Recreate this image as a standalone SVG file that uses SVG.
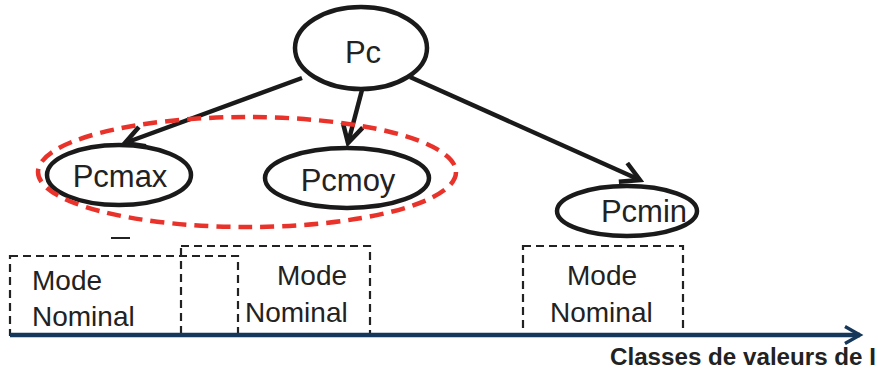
<svg xmlns="http://www.w3.org/2000/svg" width="878" height="369" viewBox="0 0 878 369">
<style>
.node{fill:#fff;stroke:#1a1a1a;stroke-width:4.5}
.lbl{font-family:"Liberation Sans",Arial,sans-serif;font-size:31px;fill:#222;text-anchor:middle}
.mode{font-family:"Liberation Sans",Arial,sans-serif;font-size:28px;fill:#222}
.box{fill:none;stroke:#222;stroke-width:2.2;stroke-dasharray:8,5}
.edge{fill:none;stroke:#1a1a1a;stroke-width:4.5;marker-end:url(#ah)}
</style>
<defs>
<marker id="ah" viewBox="0 0 12 12" refX="10" refY="6" markerWidth="5.5" markerHeight="5.5" orient="auto" markerUnits="strokeWidth">
<path d="M1,1 L10,6 L1,11" fill="none" stroke="#1a1a1a" stroke-width="2.2"/>
</marker>
<marker id="axh" viewBox="0 0 12 12" refX="10" refY="6" markerWidth="5" markerHeight="5" orient="auto" markerUnits="strokeWidth">
<path d="M2,1.5 L10,6 L2,10.5" fill="none" stroke="#14375a" stroke-width="1.8"/>
</marker>
</defs>
<g id="boxes">
<rect class="box" x="10" y="256" width="228" height="79"/>
<rect class="box" x="181" y="246" width="189" height="89"/>
<rect class="box" x="523" y="246" width="160" height="89"/>
<text class="mode" x="32" y="290">Mode</text>
<text class="mode" x="32" y="326">Nominal</text>
<text class="mode" x="277" y="285">Mode</text>
<text class="mode" x="245" y="322">Nominal</text>
<text class="mode" x="567" y="285">Mode</text>
<text class="mode" x="550" y="322">Nominal</text>
<line x1="111" y1="238" x2="130" y2="238" stroke="#222" stroke-width="2"/>
</g>
<g id="axis">
<line x1="10" y1="335" x2="860" y2="335" stroke="#14375a" stroke-width="4.5" marker-end="url(#axh)"/>
<text x="610" y="365" font-family="'Liberation Sans',Arial,sans-serif" font-size="23" font-weight="bold" fill="#222" textLength="266" lengthAdjust="spacingAndGlyphs">Classes de valeurs de I</text>
</g>
<g id="connectors">
<line class="edge" x1="302" y1="78" x2="125" y2="143"/>
<line class="edge" x1="362" y1="90" x2="348" y2="143"/>
<line class="edge" x1="410" y1="77" x2="640" y2="180"/>
</g>
<g id="Pc">
<ellipse class="node" cx="361" cy="48" rx="66" ry="41"/>
<text class="lbl" x="363" y="63">Pc</text>
</g>
<g id="Pcmax">
<ellipse class="node" cx="119" cy="175" rx="72" ry="30"/>
<text class="lbl" x="120" y="187">Pcmax</text>
</g>
<g id="Pcmoy">
<ellipse class="node" cx="347" cy="178" rx="82" ry="30"/>
<text class="lbl" x="348" y="191">Pcmoy</text>
</g>
<g id="Pcmin">
<ellipse class="node" cx="627" cy="211" rx="70" ry="25"/>
<text class="lbl" x="644" y="222">Pcmin</text>
</g>
<g id="group">
<ellipse cx="247" cy="172" rx="209" ry="55" fill="none" stroke="#e8322a" stroke-width="4.5" stroke-dasharray="14,8"/>
</g>
</svg>
